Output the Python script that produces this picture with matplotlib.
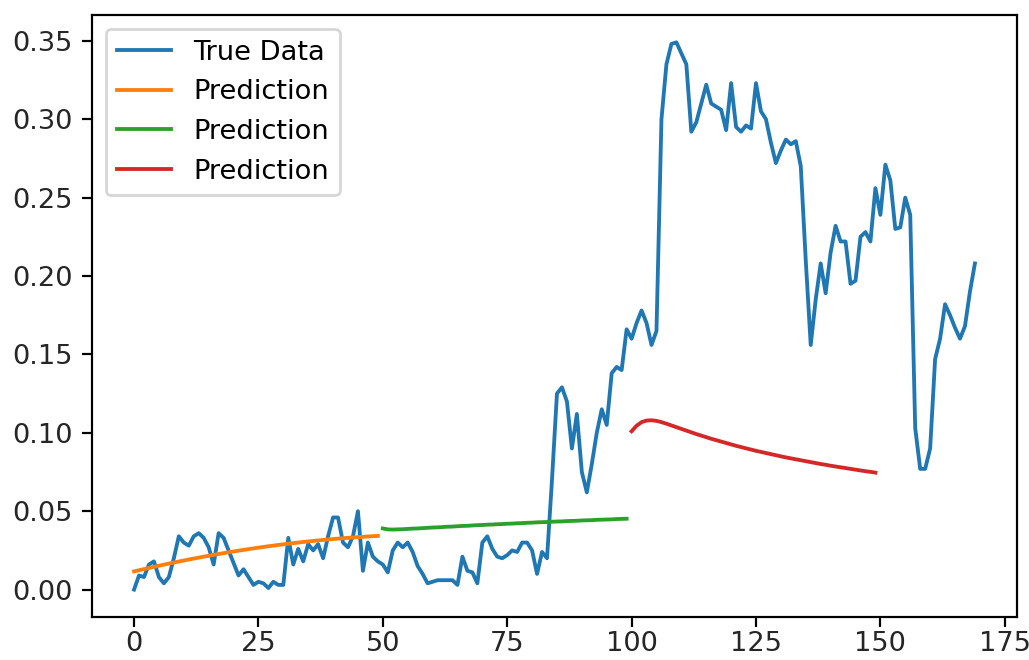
import numpy as np
import matplotlib
matplotlib.use('Agg')
import matplotlib.pyplot as plt

# true series
true_data = [
    0.000, 0.009, 0.008, 0.016, 0.018, 0.008, 0.004, 0.008, 0.020, 0.034,
    0.030, 0.028, 0.034, 0.036, 0.033, 0.027, 0.016, 0.036, 0.033, 0.025,
    0.017, 0.009, 0.013, 0.008, 0.003, 0.005, 0.004, 0.001, 0.005, 0.003,
    0.003, 0.033, 0.016, 0.026, 0.018, 0.029, 0.025, 0.029, 0.020, 0.034,
    0.046, 0.046, 0.030, 0.027, 0.034, 0.050, 0.012, 0.030, 0.021, 0.018,
    0.016, 0.011, 0.025, 0.030, 0.027, 0.030, 0.024, 0.015, 0.010, 0.004,
    0.005, 0.006, 0.006, 0.006, 0.006, 0.003, 0.021, 0.012, 0.011, 0.004,
    0.030, 0.034, 0.026, 0.021, 0.020, 0.022, 0.025, 0.024, 0.030, 0.030,
    0.025, 0.010, 0.024, 0.020, 0.070, 0.125, 0.129, 0.120, 0.090, 0.112,
    0.075, 0.062, 0.080, 0.100, 0.115, 0.105, 0.138, 0.142, 0.140, 0.166,
    0.160, 0.170, 0.178, 0.170, 0.156, 0.165, 0.300, 0.335, 0.348, 0.349,
    0.342, 0.335, 0.292, 0.298, 0.310, 0.322, 0.310, 0.308, 0.306, 0.293,
    0.323, 0.295, 0.292, 0.296, 0.294, 0.323, 0.305, 0.300, 0.285, 0.272,
    0.280, 0.287, 0.284, 0.286, 0.270, 0.210, 0.156, 0.185, 0.208, 0.189,
    0.215, 0.232, 0.222, 0.222, 0.195, 0.197, 0.225, 0.228, 0.222, 0.256,
    0.239, 0.271, 0.261, 0.230, 0.231, 0.250, 0.239, 0.103, 0.077, 0.077,
    0.090, 0.147, 0.160, 0.182, 0.175, 0.167, 0.160, 0.168, 0.190, 0.208,
]

# three prediction windows of 50 steps each
pred1 = [
    0.01160, 0.01235, 0.01309, 0.01381, 0.01453, 0.01523, 0.01592, 0.01660, 0.01726, 0.01792,
    0.01856, 0.01919, 0.01981, 0.02041, 0.02101, 0.02159, 0.02216, 0.02272, 0.02326, 0.02380,
    0.02432, 0.02483, 0.02533, 0.02581, 0.02629, 0.02675, 0.02720, 0.02764, 0.02806, 0.02848,
    0.02888, 0.02927, 0.02965, 0.03001, 0.03037, 0.03071, 0.03104, 0.03136, 0.03166, 0.03196,
    0.03224, 0.03251, 0.03277, 0.03301, 0.03325, 0.03347, 0.03368, 0.03388, 0.03406, 0.03424,
]
pred2 = [
    0.0390, 0.0384, 0.0383, 0.0384, 0.0385, 0.0387, 0.0389, 0.0390, 0.0392, 0.0394,
    0.0396, 0.0397, 0.0399, 0.0401, 0.0402, 0.0404, 0.0406, 0.0407, 0.0409, 0.0411,
    0.0412, 0.0414, 0.0415, 0.0417, 0.0418, 0.0420, 0.0421, 0.0423, 0.0424, 0.0426,
    0.0427, 0.0429, 0.0430, 0.0431, 0.0433, 0.0434, 0.0435, 0.0437, 0.0438, 0.0439,
    0.0441, 0.0442, 0.0443, 0.0445, 0.0446, 0.0447, 0.0448, 0.0450, 0.0451, 0.0452,
]
pred3 = [
    0.1010, 0.1045, 0.1068, 0.1078, 0.1080, 0.1076, 0.1068, 0.1058, 0.1047, 0.1036,
    0.1025, 0.1014, 0.1003, 0.0992, 0.0982, 0.0972, 0.0962, 0.0953, 0.0944, 0.0935,
    0.0926, 0.0917, 0.0909, 0.0901, 0.0893, 0.0885, 0.0878, 0.0871, 0.0864, 0.0857,
    0.0850, 0.0843, 0.0837, 0.0831, 0.0825, 0.0819, 0.0813, 0.0807, 0.0801, 0.0796,
    0.0790, 0.0785, 0.0780, 0.0775, 0.0770, 0.0765, 0.0760, 0.0755, 0.0751, 0.0746,
]
pred_starts = [0, 50, 100]

DPI = 196.6
fig = plt.figure(figsize=(1029 / DPI, 660 / DPI), dpi=DPI)
ax = fig.add_axes([0.0894, 0.0652, 0.8989, 0.9121])

ax.plot(np.arange(len(true_data)), true_data, label='True Data', lw=1.4)
for start, pred in zip(pred_starts, [pred1, pred2, pred3]):
    ax.plot(np.arange(start, start + len(pred)), pred, label='Prediction', lw=1.4)

ax.set_xticks([0, 25, 50, 75, 100, 125, 150, 175])
ax.tick_params(labelcolor='#262626')
ax.tick_params(axis='x', pad=1.8)
ax.legend(loc='upper left')

fig.savefig('out.png', dpi=DPI)
